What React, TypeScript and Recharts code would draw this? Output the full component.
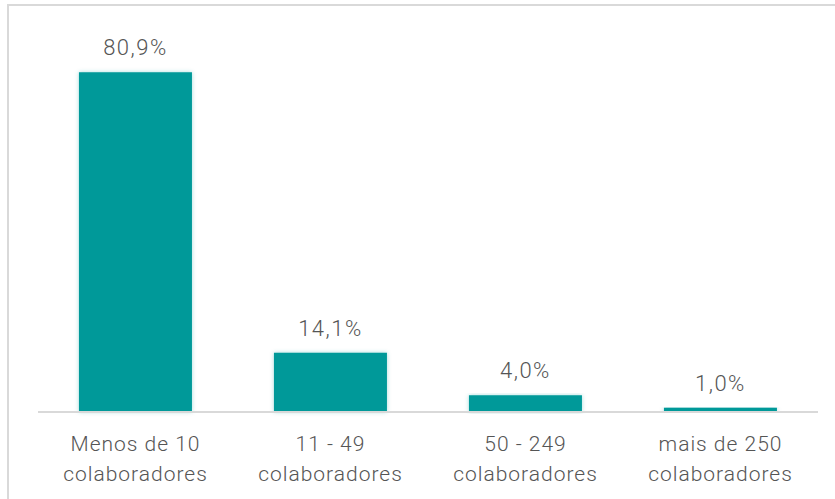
import { BarChart, Bar, XAxis, YAxis, LabelList } from 'recharts';

const categories = ['Menos de 10|colaboradores', '11 - 49|colaboradores', '50 - 249|colaboradores', 'mais de 250|colaboradores'];
const shares = [80.9, 14.1, 4.0, 1.0];

const data = categories.map((c, i) => ({ name: c, value: shares[i] }));

const TEXT = '#555555';
const FONT = 'Roboto, "Noto Sans", sans-serif';

function CategoryTick(props: any) {
  const { x, y, payload } = props;
  const lines = String(payload.value).split('|');
  return (
    <text x={x} y={y} textAnchor="middle" fill={TEXT} fontSize={21} fontWeight={300} fontFamily={FONT} letterSpacing={1}>
      {lines.map((l, i) => (
        <tspan key={i} x={x} dy={i === 0 ? 31 : 30}>{l}</tspan>
      ))}
    </text>
  );
}

export default function App() {
  return (
    <div style={{ position: 'absolute', left: 0, top: 0, width: 835, height: 499, background: '#fff' }}>
      <div style={{ position: 'absolute', left: 7, top: 4, width: 840, height: 520, borderLeft: '2px solid #d9d9d9', borderTop: '2px solid #d9d9d9' }} />
      <BarChart
        width={835}
        height={499}
        data={data}
        margin={{ top: 34, right: 17, bottom: 0, left: 38 }}
        barCategoryGap="21%"
        style={{ position: 'absolute', left: 0, top: 0 }}
      >
        <defs>
          <filter id="glow" x="-10%" y="-10%" width="120%" height="120%">
            <feGaussianBlur in="SourceAlpha" stdDeviation="2" />
            <feOffset dx="0" dy="0" result="b" />
            <feFlood floodColor="#009999" floodOpacity="0.35" />
            <feComposite in2="b" operator="in" />
            <feMerge>
              <feMergeNode />
              <feMergeNode in="SourceGraphic" />
            </feMerge>
          </filter>
        </defs>
        <YAxis hide domain={[0, 90]} />
        <XAxis
          dataKey="name"
          height={87}
          tickLine={false}
          axisLine={{ stroke: '#d9d9d9', strokeWidth: 2 }}
          tick={<CategoryTick />}
          interval={0}
        />
        <Bar dataKey="value" fill="#009999" isAnimationActive={false} filter="url(#glow)">
          <LabelList
            dataKey="value"
            position="top"
            offset={17}
            formatter={(v: any) => `${Number(v).toFixed(1).replace('.', ',')}%`}
            style={{ fill: TEXT, fontSize: 22, fontWeight: 300, fontFamily: FONT, letterSpacing: 1.5 }}
          />
        </Bar>
      </BarChart>
    </div>
  );
}
